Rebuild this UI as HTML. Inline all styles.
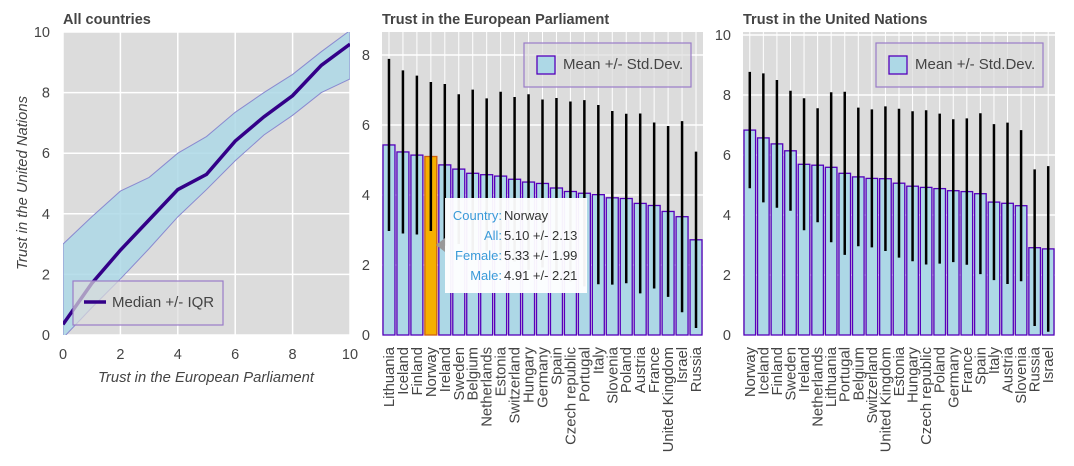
<!DOCTYPE html>
<html><head><meta charset="utf-8"><style>
body{margin:0;background:#fff;font-family:"Liberation Sans",sans-serif;}
svg text{font-family:"Liberation Sans",sans-serif;}
</style></head><body>
<svg id="c" width="1074" height="461" viewBox="0 0 1074 461"></svg>
<script>
const xVals=[0,1,2,3,4,5,6,7,8,9,10];
const medianVals=[0.35,1.7,2.8,3.8,4.8,5.3,6.4,7.2,7.9,8.9,9.6];
const upperVals=[3.0,3.9,4.75,5.2,6.0,6.55,7.35,8.0,8.6,9.35,10.05];
const lowerVals=[-0.1,0.9,1.85,2.85,3.9,4.8,5.75,6.6,7.25,8.0,8.45];
const epCountries=["Lithuania","Iceland","Finland","Norway","Ireland","Sweden","Belgium","Netherlands","Estonia","Switzerland","Hungary","Germany","Spain","Czech republic","Portugal","Italy","Slovenia","Poland","Austria","France","United Kingdom","Israel","Russia"];
const epMeans=[5.43,5.23,5.14,5.10,4.86,4.74,4.62,4.58,4.54,4.45,4.37,4.33,4.20,4.10,4.05,4.01,3.92,3.90,3.76,3.70,3.53,3.38,2.72];
const epSds=[2.46,2.33,2.27,2.13,2.31,2.14,2.39,2.18,2.41,2.35,2.51,2.40,2.57,2.57,2.66,2.56,2.48,2.42,2.57,2.37,2.44,2.73,2.52];
const unCountries=["Norway","Iceland","Finland","Sweden","Ireland","Netherlands","Lithuania","Portugal","Belgium","Switzerland","United Kingdom","Estonia","Hungary","Czech republic","Poland","Germany","France","Spain","Italy","Austria","Slovenia","Russia","Israel"];
const unMeans=[6.83,6.57,6.37,6.14,5.69,5.66,5.59,5.39,5.27,5.22,5.21,5.06,4.96,4.92,4.88,4.81,4.78,4.71,4.43,4.39,4.31,2.91,2.87];
const unSds=[1.94,2.15,2.13,2.0,2.2,1.9,2.5,2.72,2.31,2.3,2.41,2.48,2.5,2.57,2.5,2.38,2.44,2.68,2.6,2.69,2.52,2.61,2.76];
const leftTicks=[0,2,4,6,8,10];
const epTicks=[0,2,4,6,8];
const unTicks=[0,2,4,6,8,10];

const svg=document.getElementById('c');
const NS='http://www.w3.org/2000/svg';
function el(tag,attrs,parent){const e=document.createElementNS(NS,tag);for(const k in attrs)e.setAttribute(k,attrs[k]);(parent||svg).appendChild(e);return e;}
function txt(s,attrs,parent){const t=el('text',attrs,parent);t.textContent=s;return t;}

// ---- Left panel ----
const L={x0:63,x1:350,y0:335,y1:32};
const lx=v=>L.x0+(v/10)*(L.x1-L.x0);
const ly=v=>L.y0-(v/10)*(L.y0-L.y1);
const gL=el('g',{});


el('defs',{}).innerHTML='<clipPath id="clL"><rect x="63" y="32" width="287" height="303"/></clipPath>';
el('rect',{x:L.x0,y:L.y1,width:L.x1-L.x0,height:L.y0-L.y1,fill:'#dcdcdc'},gL);
leftTicks.forEach(t=>{
 el('line',{x1:lx(t),x2:lx(t),y1:L.y1,y2:L.y0,stroke:'#fff','stroke-width':1.5},gL);
 el('line',{x1:L.x0,x2:L.x1,y1:ly(t),y2:ly(t),stroke:'#fff','stroke-width':1.5},gL);
 txt(t,{x:lx(t),y:359,'text-anchor':'middle','font-size':14.5,fill:'#444'},gL);
 txt(t,{x:50,y:ly(t)+5,'text-anchor':'end','font-size':14.5,fill:'#444'},gL);
});
const band=el('path',{d:'M'+xVals.map((x,i)=>lx(x)+','+ly(upperVals[i])).join('L')+'L'+xVals.slice().reverse().map((x,j)=>lx(x)+','+ly(lowerVals[xVals.length-1-j])).join('L')+'Z',fill:'#add8e6','fill-opacity':0.85,stroke:'#8a8ad0','stroke-width':1,'clip-path':'url(#clL)'},gL);


const med=el('polyline',{points:xVals.map((x,i)=>lx(x)+','+ly(medianVals[i])).join(' '),fill:'none',stroke:'#330088','stroke-width':3.5,'clip-path':'url(#clL)'},gL);


const lg=el('g',{},gL);


el('rect',{x:73,y:281,width:150,height:44,fill:'#dcdcdc','fill-opacity':0.7,stroke:'#9a7cc8','stroke-width':1.2},lg);
el('line',{x1:84,x2:106,y1:302,y2:302,stroke:'#330088','stroke-width':3.5},lg);
txt('Median +/- IQR',{x:112,y:307,'font-size':15,fill:'#444'},lg);
txt('All countries',{x:63,y:24,'font-size':14.5,'font-weight':'bold',fill:'#444'},gL);
txt('Trust in the European Parliament',{x:206,y:382,'text-anchor':'middle','font-size':14.8,'font-style':'italic',fill:'#444'},gL);
txt('Trust in the United Nations',{x:0,y:0,transform:'translate(27,183) rotate(-90)','text-anchor':'middle','font-size':14.8,'font-style':'italic',fill:'#444'},gL);

// ---- Bar panels ----
function barPanel(cfg){
 const g=el('g',{});
 
 
 const n=cfg.cats.length, slot=(cfg.x1-cfg.x0)/n;
 const y=v=>cfg.y0-v*cfg.scale;
 el('rect',{x:cfg.x0,y:32,width:cfg.x1-cfg.x0,height:cfg.y0-32,fill:'#dcdcdc'},g);
 cfg.ticks.forEach(t=>{
  el('line',{x1:cfg.x0,x2:cfg.x1,y1:y(t),y2:y(t),stroke:'#fff','stroke-width':1.5},g);
  txt(t,{x:cfg.x0-12,y:y(t)+5,'text-anchor':'end','font-size':14.5,fill:'#444'},g);
 });
 for(let i=0;i<n;i++){const cx=cfg.x0+slot*(i+0.5);el('line',{x1:cx,x2:cx,y1:32,y2:cfg.y0,stroke:'#fff','stroke-width':1},g);}
 cfg.cats.forEach((c,i)=>{
  const cx=cfg.x0+slot*(i+0.5), m=cfg.means[i], s=cfg.sds[i];
  const hl=cfg.highlight===c;
  const b=el('rect',{x:cx-slot/2+1,y:y(m),width:slot-2,height:cfg.y0-y(m),fill:hl?'#f5b000':'#add8e6',stroke:hl?'#d06010':'#5500bb','stroke-width':1.3},g);
  
  
  const e=el('line',{x1:cx,x2:cx,y1:y(Math.min(m+s,cfg.maxV)),y2:y(Math.max(m-s,0)),stroke:'#000','stroke-width':2.5},g);
  
  
  const t=txt(c,{x:0,y:0,transform:`translate(${cx+5},347) rotate(-90)`,'text-anchor':'end','font-size':14.8,fill:'#444'},g);
  
  
 });
 txt(cfg.title,{x:cfg.x0,y:24,'font-size':14.5,'font-weight':'bold',fill:'#444'},g);
 const lgd=el('g',{},g);
 
 
 el('rect',{x:cfg.lx,y:43,width:167,height:44,fill:'#dcdcdc','fill-opacity':0.7,stroke:'#9a7cc8','stroke-width':1.2},lgd);
 el('rect',{x:cfg.lx+13,y:56,width:18,height:18,fill:'#add8e6',stroke:'#5500bb','stroke-width':1.3},lgd);
 txt('Mean +/- Std.Dev.',{x:cfg.lx+39,y:69,'font-size':15,fill:'#444'},lgd);
 return g;
}
barPanel({name:'european-parliament-panel',title:'Trust in the European Parliament',cats:epCountries,means:epMeans,sds:epSds,ticks:epTicks,x0:382,x1:703,y0:335,scale:35,maxV:8.66,lx:524,highlight:'Norway'});
barPanel({name:'united-nations-panel',title:'Trust in the United Nations',cats:unCountries,means:unMeans,sds:unSds,ticks:unTicks,x0:743,x1:1055,y0:335,scale:30,maxV:10.1,lx:876});

// tooltip
const tt=el('g',{});


el('path',{d:'M436,245 L445,238 L445,252 Z',fill:'#999'},tt);
el('rect',{x:445,y:198,width:142,height:95,fill:'#fff','fill-opacity':0.95},tt);
[['Country:','Norway'],['All:','5.10 +/- 2.13'],['Female:','5.33 +/- 1.99'],['Male:','4.91 +/- 2.21']].forEach((r,i)=>{
 txt(r[0],{x:502,y:220+i*20,'text-anchor':'end','font-size':13,fill:'#3a9ad9'},tt);
 txt(r[1],{x:504,y:220+i*20,'font-size':13,fill:'#333'},tt);
});
</script>
</body></html>
